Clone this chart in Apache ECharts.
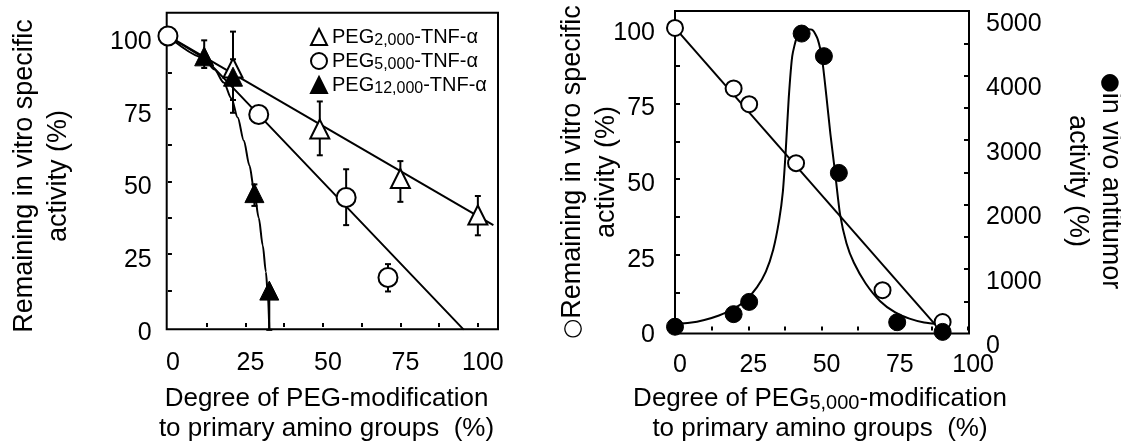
<!DOCTYPE html>
<html>
<head>
<meta charset="utf-8">
<script src="https://cdn.jsdelivr.net/npm/echarts@6/dist/echarts.min.js"></script>
<style>
html, body { margin: 0; padding: 0; background: #fff; }
#chart { width: 1121px; height: 443px; }
</style>
</head>
<body>
<div id="chart"></div>
<script>
// left panel: remaining in vitro activity (%) vs degree of modification (%)
var peg2000 = [[21, 89], [49, 68], [75, 51], [100, 38.5]];
var peg2000Err = [[21, 78, 101.5], [49, 59, 77.5], [75, 43, 57], [100, 31.5, 45]];
var peg5000 = [[0, 100], [29.3, 73], [57.5, 44.5], [71, 17]];
var peg5000Err = [[57.5, 35, 54.2], [71, 12.2, 21.6]];
var peg12000 = [[11.7, 93], [21, 86], [27.9, 46], [32.7, 12.5]];
var peg12000Err = [[11.7, 89, 98.5], [21, 73.6, 92], [27.9, 41.6, 49], [32.7, -1, 12.5]];
var fit2000 = [[0, 100], [105, 35]];
var fit5000 = [[0, 100], [12, 92.2], [95.5, -1]];
var fit12000 = [[0, 100], [11.4, 92.6], [15, 88.5], [18, 84], [20.5, 78.5], [22.5, 72], [24.5, 64],
  [26.3, 55.5], [27.8, 47], [29.3, 37.5], [30.6, 28], [31.6, 19], [32.3, 10], [32.7, -1]];

// right panel: PEG5,000 in vitro (%) and in vivo antitumor activity (%)
var vitro = [[0, 100], [20, 80], [25.3, 74.8], [41.3, 55.3], [70.8, 13.3], [91.3, 2.8]];
var vivo = [[0, 105], [20, 300], [25.3, 490], [43.2, 4650], [50.8, 4300], [55.9, 2490], [75.8, 175], [91.3, 25]];
var fitVitro = [[0, 100], [88.7, 2]];
var fitVivo = [[0, 145], [5, 165], [10, 210], [15, 280], [20, 380], [24, 510], [28, 720], [31, 960],
  [33.5, 1300], [35.5, 1750], [36.8, 2200], [37.8, 2850], [38.8, 3650], [40, 4300], [41.8, 4620], [44.5, 4720],
  [47, 4700], [48.7, 4560], [50.2, 4250], [51.6, 3700], [53, 3100], [54.6, 2500], [56.3, 1850],
  [58.5, 1400], [61, 1100], [65, 780], [70, 500], [75, 330], [80, 230], [85, 170], [90.4, 140]];

var xLabels = [0, 25, 50, 75, 100];
var pctLabels = [0, 25, 50, 75, 100];
var vivoLabels = [0, 1000, 2000, 3000, 4000, 5000];
var pctTicks = [12.5, 25, 37.5, 50, 62.5, 75, 87.5, 100];
var vivoTicks = [500, 1000, 1500, 2000, 2500, 3000, 3500, 4000, 4500];

var FONT = '"Liberation Sans", Arial, Helvetica, sans-serif';
var SYM = '"DejaVu Sans", sans-serif';

function tickStyle(len) {
  return { inside: true, length: len, lineStyle: { color: '#000', width: 2 } };
}

function labelStyle(extra) {
  return Object.assign({ fontSize: 25, color: '#000', fontFamily: FONT, formatter: function (v) { return String(v); } }, extra);
}

function errorBars(data, xi, yi) {
  return {
    type: 'custom',
    xAxisIndex: xi,
    yAxisIndex: yi,
    data: data,
    z: 2,
    silent: true,
    encode: { x: 0, y: [1, 2] },
    renderItem: function (params, api) {
      var x = api.value(0);
      var lo = api.coord([x, api.value(1)]);
      var hi = api.coord([x, api.value(2)]);
      var st = { stroke: '#000', lineWidth: 2 };
      var w = 3;
      return {
        type: 'group',
        children: [
          { type: 'line', shape: { x1: lo[0], y1: lo[1], x2: hi[0], y2: hi[1] }, style: st },
          { type: 'line', shape: { x1: lo[0] - w, y1: lo[1], x2: lo[0] + w, y2: lo[1] }, style: st },
          { type: 'line', shape: { x1: hi[0] - w, y1: hi[1], x2: hi[0] + w, y2: hi[1] }, style: st }
        ]
      };
    }
  };
}

function fitLine(data, xi, yi, smooth, mono) {
  return {
    type: 'line', xAxisIndex: xi, yAxisIndex: yi, data: data,
    symbol: 'none', smooth: smooth, smoothMonotone: mono, z: 1, silent: true,
    lineStyle: { color: '#000', width: 2 }
  };
}

var openStyle = { color: '#fff', borderColor: '#000', borderWidth: 2, opacity: 1 };
var fillStyle = { color: '#000', borderColor: '#000', borderWidth: 1, opacity: 1 };

var chart = echarts.init(document.getElementById('chart'), null, { renderer: 'canvas' });

chart.setOption({
  animation: false,
  backgroundColor: '#fff',
  textStyle: { fontFamily: FONT, color: '#000' },
  grid: [
    { left: 166.7, top: 12.7, width: 331.3, height: 316.6, show: true, borderColor: '#000', borderWidth: 2 },
    { left: 675, top: 11, width: 294, height: 322.5, show: true, borderColor: '#000', borderWidth: 2 }
  ],
  legend: {
    data: ['PEG2,000-TNF-α', 'PEG5,000-TNF-α', 'PEG12,000-TNF-α'],
    orient: 'vertical',
    left: 305,
    top: 22,
    itemWidth: 16,
    itemHeight: 16,
    itemGap: 2,
    selectedMode: false,
    formatter: function (name) {
      var m = name.match(/^PEG([\d,]+)(.*)$/);
      return '{m|PEG}{s|' + m[1] + '}{m|' + m[2] + '}';
    },
    textStyle: {
      rich: {
        m: { fontSize: 20, fontFamily: FONT, color: '#000', lineHeight: 24 },
        s: { fontSize: 16, fontFamily: FONT, color: '#000', lineHeight: 20, verticalAlign: 'bottom' }
      }
    }
  },
  xAxis: [
    {
      type: 'value', gridIndex: 0, min: -0.4, max: 106.5,
      axisLine: { show: false }, splitLine: { show: false },
      axisTick: Object.assign(tickStyle(4), { customValues: pctTicks }),
      axisLabel: labelStyle({ customValues: xLabels, margin: 21, padding: [0, 0, 0, 10] })
    },
    {
      type: 'value', gridIndex: 1, min: 0, max: 100.3,
      axisLine: { show: false }, splitLine: { show: false },
      axisTick: Object.assign(tickStyle(4), { customValues: pctTicks }),
      axisLabel: labelStyle({ customValues: xLabels, margin: 19, padding: [0, 0, 0, 10] })
    }
  ],
  yAxis: [
    {
      type: 'value', gridIndex: 0, min: -0.8, max: 108,
      axisLine: { show: false }, splitLine: { show: false },
      axisTick: Object.assign(tickStyle(4), { customValues: pctTicks.slice(0, 7) }),
      axisLabel: labelStyle({ customValues: pctLabels, margin: 15, verticalAlign: 'top', lineHeight: 12 })
    },
    {
      type: 'value', gridIndex: 1, min: -1, max: 105.6,
      axisLine: { show: false }, splitLine: { show: false },
      axisTick: Object.assign(tickStyle(5), { customValues: pctTicks.slice(0, 7) }),
      axisLabel: labelStyle({ customValues: pctLabels, margin: 20, verticalAlign: 'top', lineHeight: 10 })
    },
    {
      type: 'value', gridIndex: 1, position: 'right', min: 0, max: 5000,
      axisLine: { show: false }, splitLine: { show: false },
      axisTick: Object.assign(tickStyle(5), { customValues: vivoTicks }),
      axisLabel: labelStyle({ customValues: vivoLabels, margin: 17, verticalAlign: 'top', lineHeight: 26 })
    }
  ],
  graphic: [
    {
      type: 'text', x: 42, y: 176, rotation: Math.PI / 2, silent: true,
      style: { text: 'Remaining in vitro specific\nactivity (%)', fontSize: 27, fontFamily: FONT, lineHeight: 34, fill: '#000', align: 'center', verticalAlign: 'middle' }
    },
    {
      type: 'text', x: 326.5, y: 413.7, silent: true,
      style: { text: 'Degree of PEG-modification\nto primary amino groups  (%)', fontSize: 26, fontFamily: FONT, lineHeight: 29.5, fill: '#000', align: 'center', verticalAlign: 'middle' }
    },
    {
      type: 'text', x: 590, y: 172, rotation: Math.PI / 2, silent: true,
      style: {
        text: '{c|○}{m|Remaining in vitro specific}\n{m|activity (%)}',
        align: 'center', verticalAlign: 'middle',
        rich: {
          c: { fontSize: 23, fontFamily: SYM, fill: '#000', lineHeight: 34 },
          m: { fontSize: 27, fontFamily: FONT, fill: '#000', lineHeight: 34 }
        }
      }
    },
    {
      type: 'text', x: 1093.5, y: 181, rotation: -Math.PI / 2, silent: true,
      style: {
        text: '{c|●}{m|in vivo antitumor}\n{m|activity (%)}',
        align: 'center', verticalAlign: 'middle',
        rich: {
          c: { fontSize: 23, fontFamily: SYM, fill: '#000', lineHeight: 33 },
          m: { fontSize: 27, fontFamily: FONT, fill: '#000', lineHeight: 33 }
        }
      }
    },
    {
      type: 'text', x: 820, y: 413.7, silent: true,
      style: {
        text: '{m|Degree of PEG}{s|5,000}{m|-modification}\n{m|to primary amino groups  (%)}',
        align: 'center', verticalAlign: 'middle',
        rich: {
          m: { fontSize: 26, fontFamily: FONT, fill: '#000', lineHeight: 29.5 },
          s: { fontSize: 20, fontFamily: FONT, fill: '#000', lineHeight: 24, verticalAlign: 'bottom' }
        }
      }
    }
  ],
  series: [
    fitLine(fit2000, 0, 0, false),
    fitLine(fit5000, 0, 0, false),
    fitLine(fit12000, 0, 0, 0.3, 'x'),
    errorBars(peg2000Err, 0, 0),
    errorBars(peg5000Err, 0, 0),
    errorBars(peg12000Err, 0, 0),
    { name: 'PEG2,000-TNF-α', type: 'scatter', xAxisIndex: 0, yAxisIndex: 0, data: peg2000, symbol: 'triangle', symbolSize: 19, itemStyle: openStyle, z: 3, clip: false },
    { name: 'PEG5,000-TNF-α', type: 'scatter', xAxisIndex: 0, yAxisIndex: 0, data: peg5000, symbol: 'circle', symbolSize: 19, itemStyle: openStyle, z: 3, clip: false },
    { name: 'PEG12,000-TNF-α', type: 'scatter', xAxisIndex: 0, yAxisIndex: 0, data: peg12000, symbol: 'triangle', symbolSize: 19, itemStyle: fillStyle, z: 4, clip: false },

    fitLine(fitVitro, 1, 1, false),
    fitLine(fitVivo, 1, 2, 0.2),
    { name: 'in vitro', type: 'scatter', xAxisIndex: 1, yAxisIndex: 1, data: vitro, symbol: 'circle', symbolSize: 16, itemStyle: openStyle, z: 3, clip: false },
    { name: 'in vivo', type: 'scatter', xAxisIndex: 1, yAxisIndex: 2, data: vivo, symbol: 'circle', symbolSize: 17, itemStyle: fillStyle, z: 4, clip: false }
  ]
});
</script>
</body>
</html>
